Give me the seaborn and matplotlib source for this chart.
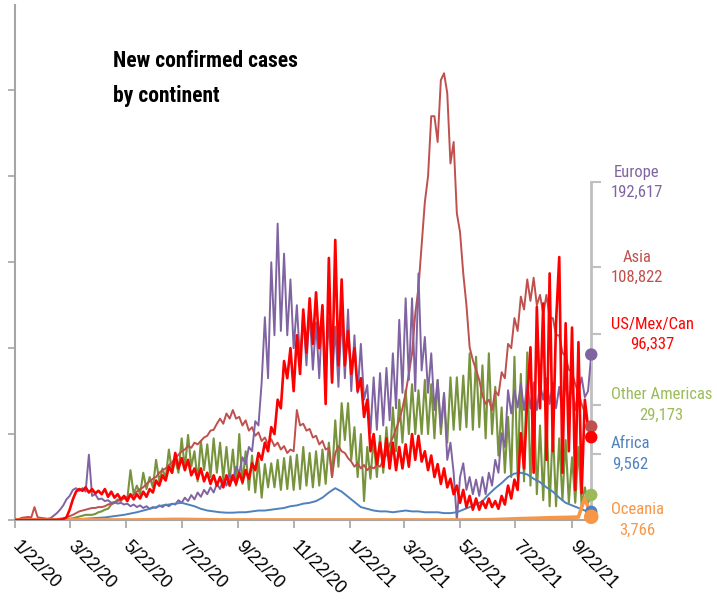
import os
import matplotlib
matplotlib.use("Agg")
import matplotlib.pyplot as plt
import matplotlib.dates as mdates
from matplotlib import font_manager as fm
from matplotlib.ticker import FuncFormatter
from matplotlib.transforms import blended_transform_factory
import pandas as pd
import seaborn as sns

# --- dados (milhares de casos novos) ---
# series com dois pontos por semana (a cada 3,5 dias a partir de 22/01/2020)
europe = [
    0, 0, 0, 0, 0, 0, 0, 0, 0, 0.5,
    1, 2, 5, 8, 12, 17, 24, 28, 35, 37,
    34, 37, 33, 76, 28, 30, 24, 25, 22, 23,
    20, 21, 19, 20, 18, 19, 16, 18, 15, 17,
    14, 16, 13, 15, 14, 17, 15, 18, 16, 19,
    18, 23, 20, 26, 22, 29, 24, 32, 27, 35,
    30, 38, 32, 42, 36, 47, 40, 54, 46, 62,
    55, 73, 65, 85, 80, 115, 110, 160, 236, 165,
    300, 215, 345, 220, 310, 215, 280, 200, 250, 185,
    240, 180, 245, 175, 230, 165, 245, 170, 235, 160,
    225, 155, 240, 165, 245, 150, 215, 148, 205, 140,
    157, 101, 166, 105, 171, 110, 177, 116, 194, 130,
    233, 148, 258, 163, 258, 150, 287, 174, 213, 148,
    194, 128, 163, 108, 148, 70, 90, 55, 0, 50,
    66, 35, 50, 30, 47, 28, 50, 30, 55, 40,
    70, 55, 101, 85, 151, 124, 151, 131, 159, 128,
    158, 130, 160, 128, 158, 140, 165, 135, 160, 130,
    155, 125, 160, 136, 155, 128, 150, 166, 143, 150,
    192.617,
]
asia = [
    0.5, 1, 2.5, 3, 3.5, 3, 15, 3, 2.5, 2,
    1.5, 1.5, 1, 1, 1.5, 2, 3, 4.5, 6, 8,
    10, 11, 12, 13, 14, 14, 15, 15, 16, 18,
    19, 20, 22, 24, 25, 27, 28, 29, 33, 36,
    38, 42, 45, 48, 50, 55, 58, 60, 64, 67,
    72, 76, 80, 82, 86, 84, 90, 88, 92, 96,
    98, 104, 105, 112, 118, 112, 124, 118, 128, 118,
    120, 110, 116, 104, 108, 98, 102, 92, 96, 88,
    94, 86, 90, 82, 86, 78, 82, 80, 128, 110,
    112, 104, 106, 96, 98, 88, 92, 82, 84, 50,
    78, 86, 80, 78, 72, 68, 62, 66, 60, 64,
    58, 62, 60, 64, 62, 70, 76, 88, 96, 106,
    116, 130, 148, 170, 194, 240, 270, 320, 370, 400,
    470, 470, 440, 512, 520, 497, 415, 440, 357, 335,
    287, 250, 201, 186, 175, 163, 145, 135, 140, 128,
    150, 145, 172, 165, 205, 200, 235, 220, 260, 245,
    280, 255, 282, 250, 262, 240, 262, 235, 235, 215,
    215, 195, 190, 175, 172, 158, 148, 135, 125, 112,
    108.822,
]
us_mex_can = [
    0, 0, 0, 0, 0, 0, 0, 0, 0, 0,
    0, 0, 0, 0, 0.5, 1, 3, 12, 24, 33,
    36, 34, 38, 32, 36, 31, 34, 30, 36, 27,
    33, 26, 30, 24, 28, 22, 30, 24, 30, 25,
    33, 27, 36, 32, 46, 40, 52, 46, 62, 55,
    78, 60, 72, 58, 70, 52, 60, 48, 60, 45,
    55, 42, 52, 40, 50, 38, 52, 40, 52, 42,
    55, 44, 58, 48, 66, 58, 78, 70, 90, 80,
    108, 100, 140, 130, 185, 165, 200, 150, 215, 170,
    245, 195, 258, 205, 265, 200, 250, 135, 305, 160,
    326, 180, 280, 180, 220, 170, 200, 150, 165, 120,
    140, 80, 100, 65, 90, 62, 95, 60, 90, 58,
    85, 60, 88, 62, 100, 70, 98, 68, 80, 58,
    75, 50, 65, 42, 60, 38, 48, 30, 40, 20,
    35, 15, 28, 12, 25, 12, 22, 14, 25, 15,
    22, 13, 28, 18, 40, 25, 47, 35, 101, 60,
    140, 201, 55, 248, 130, 252, 70, 287, 80, 230,
    306, 55, 229, 80, 224, 35, 207, 31, 140, 108,
    96.337,
]
other_americas = [
    0, 0, 0, 0, 0, 0, 0, 0, 0, 0,
    0, 0, 0, 0, 0.2, 0.5, 1, 1.5, 2, 3,
    4, 5, 6, 6, 6, 7, 9, 10, 12, 13,
    18, 20, 24, 22, 27, 24, 58, 30, 40, 30,
    55, 36, 50, 38, 70, 45, 60, 48, 82, 55,
    70, 55, 95, 60, 99, 62, 80, 45, 92, 58,
    88, 50, 95, 55, 90, 48, 85, 45, 82, 40,
    100, 42, 80, 35, 75, 32, 70, 26, 65, 38,
    66, 38, 70, 35, 72, 36, 74, 35, 76, 36,
    85, 40, 78, 38, 80, 40, 82, 42, 90, 50,
    116, 62, 136, 93, 136, 70, 108, 50, 100, 22,
    85, 48, 95, 50, 98, 55, 108, 60, 131, 80,
    140, 90, 151, 100, 158, 100, 151, 100, 163, 100,
    158, 95, 163, 100, 145, 90, 166, 105, 166, 105,
    168, 108, 194, 105, 190, 108, 180, 95, 194, 100,
    155, 75, 131, 55, 120, 50, 190, 50, 170, 45,
    195, 40, 150, 30, 110, 23, 124, 16, 108, 16,
    95, 23, 93, 20, 73, 20, 85, 16, 38, 20,
    29.173,
]
# series semanais
africa = [
    0, 0, 0, 0, 0, 0, 0.05, 0.2, 0.5, 0.8,
    1, 1.5, 2, 2.5, 3, 4, 5, 6, 7.5, 9,
    11, 13, 15, 17, 18, 19, 20, 18, 16, 13,
    11, 10, 9, 8.5, 8.5, 9, 9, 10, 11, 11,
    12, 13, 14, 16, 17, 19, 20, 22, 26, 32,
    37, 33, 27, 21, 15, 13, 11, 10, 10, 9,
    10, 11, 10, 10, 9, 9, 9, 8, 8, 9,
    12, 15, 18, 22, 30, 37, 43, 50, 54, 55,
    53, 48, 44, 38, 33, 26, 20, 17, 14, 11,
    9.562,
]
oceania = [
    0, 0, 0, 0, 0, 0, 0, 0.02, 0.1, 0.3,
    0.4, 0.3, 0.1, 0.05, 0.03, 0.02, 0.02, 0.03, 0.05, 0.1,
    0.2, 0.3, 0.4, 0.5, 0.6, 0.7, 0.7, 0.6, 0.5, 0.4,
    0.3, 0.2, 0.1, 0.1, 0.05, 0.05, 0.05, 0.05, 0.05, 0.05,
    0.05, 0.05, 0.05, 0.05, 0.05, 0.05, 0.05, 0.05, 0.05, 0.05,
    0.05, 0.05, 0.05, 0.05, 0.05, 0.05, 0.05, 0.05, 0.05, 0.05,
    0.05, 0.05, 0.05, 0.05, 0.05, 0.05, 0.05, 0.05, 0.05, 0.05,
    0.05, 0.1, 0.1, 0.2, 0.3, 0.5, 0.8, 1.0, 1.3, 1.6,
    1.8, 2.0, 2.2, 2.5, 2.7, 2.9, 3.0, 3.2, 3.4, 26,
    3.766,
]

nomes = ["Europe", "Asia", "US/Mex/Can", "Other Americas", "Africa", "Oceania"]
# posicao vertical (milhares) de cada rotulo no colchete da direita
rotulo_y = [393, 294, 216, 134, 77, 0]

datas_meia = pd.date_range("2020-01-22", periods=len(europe), freq="84h")
datas_semana = pd.date_range("2020-01-22", periods=len(africa), freq="7D")

series = {
    "Europe": (datas_meia, europe),
    "Asia": (datas_meia, asia),
    "US/Mex/Can": (datas_meia, us_mex_can),
    "Other Americas": (datas_meia, other_americas),
    "Africa": (datas_semana, africa),
    "Oceania": (datas_semana, oceania),
}
cor_linha = {
    "Europe": "#8064A2", "Asia": "#C0504D", "US/Mex/Can": "#FF0000",
    "Other Americas": "#77933C", "Africa": "#4F81BD", "Oceania": "#F79646",
}
cor_texto = {
    "Europe": "#8064A2", "Asia": "#C0504D", "US/Mex/Can": "#FF0000",
    "Other Americas": "#9BBB59", "Africa": "#4F81BD", "Oceania": "#F79646",
}
espessura = {"Europe": 1.4, "Asia": 1.4, "US/Mex/Can": 1.9,
             "Other Americas": 1.5, "Africa": 1.4, "Oceania": 2.6}
ordem_z = {"Other Americas": 2, "Asia": 3, "Europe": 4, "Africa": 5,
           "Oceania": 6, "US/Mex/Can": 7}


def fonte_estreita(negrito=False):
    """Procura uma fonte condensada instalada; senao usa Liberation Sans."""
    if negrito:
        preferidas = ["LiberationSansNarrow-Bold.", "RobotoCondensed-Bold.",
                      "NotoSans-CondensedBold.", "DejaVuSansCondensed-Bold.",
                      "OpenSans-CondensedBold.", "OpenSans_Condensed-Bold."]
    else:
        preferidas = ["LiberationSansNarrow-Regular.", "RobotoCondensed-Regular.",
                      "NotoSans-Condensed.", "DejaVuSansCondensed.",
                      "OpenSans-CondensedRegular.", "OpenSans_Condensed-Regular."]
    arquivos = [f.fname for f in fm.fontManager.ttflist]
    for padrao in preferidas:
        for arq in arquivos:
            if os.path.basename(arq).startswith(padrao):
                return fm.FontProperties(fname=arq)
    return fm.FontProperties(family="Liberation Sans",
                             weight="bold" if negrito else "normal")


sns.set_theme(style="white")
plt.rcParams["font.family"] = ["Liberation Sans", "DejaVu Sans"]
fonte_rotulo = fonte_estreita(False)
fonte_titulo = fonte_estreita(True)

fig = plt.figure(figsize=(7.17, 6.01), dpi=100)
ax = fig.add_axes([0.0213, 0.1348, 0.8033, 0.8577])

for nome in nomes:
    datas, valores = series[nome]
    sns.lineplot(x=datas, y=valores, ax=ax, color=cor_linha[nome],
                 linewidth=espessura[nome], zorder=ordem_z[nome])

for nome in nomes:
    datas, valores = series[nome]
    tam = 110 if nome == "Oceania" else 80
    sns.scatterplot(x=[datas[-1]], y=[valores[-1]], ax=ax, color=cor_texto[nome],
                    s=tam, edgecolor="none", zorder=20, clip_on=False, legend=False)

ax.set_xlim(datas_meia[0], datas_meia[-1])
ax.set_ylim(0, 600)
ax.set_xlabel("")
ax.set_ylabel("")

ax.xaxis.set_major_locator(mdates.MonthLocator(bymonth=range(1, 13, 2), bymonthday=22))
ax.xaxis.set_major_formatter(FuncFormatter(
    lambda v, p: "{d.month}/{d.day}/{y}".format(d=mdates.num2date(v), y=mdates.num2date(v).strftime("%y"))))
ax.set_yticks(range(0, 600, 100))
ax.set_yticklabels([])

cinza = "#A6A6A6"
ax.tick_params(axis="x", bottom=True, direction="out", length=6, width=1.2,
               color=cinza, labelsize=13, labelcolor="black", pad=11)
ax.tick_params(axis="y", left=True, direction="out", length=5, width=1.2, color=cinza)
plt.setp(ax.get_xticklabels(), rotation=-45, ha="left", va="center",
         rotation_mode="anchor")
for lado in ["top", "right"]:
    ax.spines[lado].set_visible(False)
for lado in ["left", "bottom"]:
    ax.spines[lado].set_color(cinza)
    ax.spines[lado].set_linewidth(1.5)

# colchete cinza da direita com os rotulos
ax2 = ax.twinx()
ax2.set_ylim(ax.get_ylim())
ax2.set_yticks(rotulo_y[:-1])
ax2.set_yticklabels([])
ax2.tick_params(axis="y", right=True, direction="out", length=7, width=1.5, color="#BFBFBF")
for lado in ["top", "left", "bottom"]:
    ax2.spines[lado].set_visible(False)
ax2.spines["right"].set_color("#BFBFBF")
ax2.spines["right"].set_linewidth(2)
ax2.spines["right"].set_bounds(0, rotulo_y[0])
ax2.grid(False)
ax.set_zorder(ax2.get_zorder() + 1)
ax.patch.set_visible(False)

trans = blended_transform_factory(ax.transAxes, ax.transData)
for nome, ly in zip(nomes, rotulo_y):
    valor_final = int(round(series[nome][1][-1] * 1000))
    ax.text(1.034, ly, f"{nome}\n{valor_final:,}", transform=trans, ha="left",
            va="center", multialignment="center", color=cor_texto[nome],
            fontproperties=fonte_rotulo, fontsize=12, linespacing=1.45, clip_on=False)

fig.text(0.1576, 0.8694, "New confirmed cases\nby continent", ha="left", va="center",
         fontproperties=fonte_titulo, fontsize=15.5, linespacing=1.8, color="black")

fig.savefig("out.png", dpi=100)
